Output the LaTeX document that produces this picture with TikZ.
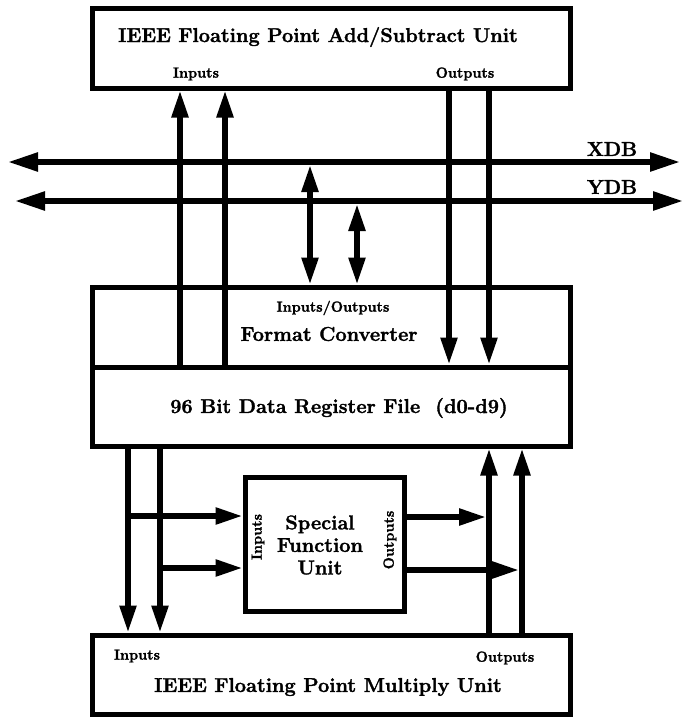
\documentclass[tikz,border=0pt]{standalone}
\usepackage{fontspec}
\setmainfont{Latin Modern Roman}[BoldFeatures={FakeBold=1.6}]
\usetikzlibrary{arrows.meta}
\begin{document}
\begin{tikzpicture}[x=1pt,y=-1pt,
  box/.style={draw, line width=5pt, minimum width=478pt, inner sep=0pt},
  flow/.style={line width=5.5pt, -{Triangle[length=27pt,width=16pt]}},
  bidir/.style={line width=5.5pt, {Triangle[length=27pt,width=16pt]}-{Triangle[length=27pt,width=16pt]}},
  bus/.style={line width=5.5pt, {Triangle[length=30pt,width=18pt]}-{Triangle[length=30pt,width=18pt]}},
  big/.style={font=\bfseries\fontsize{20}{22.5}\selectfont, inner sep=0pt, align=center},
  small/.style={font=\bfseries\fontsize{14.5}{16}\selectfont, inner sep=0pt}]
\useasboundingbox (0,0) rectangle (683,718);

% boxes
\node[box, minimum height=80pt] (add) at (331,48) {};
\node[box, minimum height=80pt] (fc) at (331,327) {};
\node[box, minimum height=79pt] (rf) at (331,406.5) {};
\node[box, minimum width=159pt, minimum height=134pt] (sfu) at (324.5,544) {};
\node[box, minimum height=79pt] (mul) at (331,674.5) {};

% texts
\node[big] (addT) at (318,37) {IEEE Floating Point Add/Subtract Unit};
\node[small] (addI) at (196,74) {Inputs};
\node[small] (addO) at (465,74) {Outputs};
\node[big] (xdbT) at (612,149) {XDB};
\node[big] (ydbT) at (612,187) {YDB};
\node[small] (fcIO) at (333,308) {Inputs/Outputs};
\node[big] (fcT) at (329,334) {Format Converter};
\node[big] (rfT) at (339,408) {96 Bit Data Register File\ \ (d0-d9)};
\node[big] (sfuT) at (320,545) {Special\\Function\\Unit};
\node[small, rotate=90] (sfuI) at (258,537) {Inputs};
\node[small, rotate=90] (sfuO) at (390,540) {Outputs};
\node[small] (mulI) at (137,656) {Inputs};
\node[small] (mulO) at (505,658) {Outputs};
\node[big] (mulT) at (328,687) {IEEE Floating Point Multiply Unit};

% column positions
\coordinate (cI1) at (180,0);
\coordinate (cI2) at (225,0);
\coordinate (cO1) at (449,0);
\coordinate (cO2) at (489,0);
\coordinate (cB1) at (310,0);
\coordinate (cB2) at (357,0);
\coordinate (cL1) at (128,0);
\coordinate (cL2) at (160,0);
\coordinate (cR1) at (489,0);
\coordinate (cR2) at (522,0);

% buses
\coordinate (xdbL) at (8,162);
\coordinate (xdbR) at (680,162);
\coordinate (ydbL) at (15,201);
\coordinate (ydbR) at (683,201);
\draw[bus] (xdbL) -- (xdbR);
\draw[bus] (ydbL) -- (ydbR);

% add/sub unit
\draw[flow] (fc.south -| cI1) -- (add.south -| cI1);
\draw[flow] (fc.south -| cI2) -- (add.south -| cI2);
\draw[flow] (add.south -| cO1) -- (rf.north -| cO1);
\draw[flow] (add.south -| cO2) -- (rf.north -| cO2);

% bus to format converter
\coordinate (bx) at (0,165);
\coordinate (by) at (0,204);
\draw[bidir] (bx -| cB1) -- (fc.north -| cB1);
\draw[bidir] (by -| cB2) -- (fc.north -| cB2);

% multiply unit
\draw[flow] (rf.south -| cL1) -- (mul.north -| cL1);
\draw[flow] (rf.south -| cL2) -- (mul.north -| cL2);
\draw[flow] (mul.north -| cR1) -- (rf.south -| cR1);
\draw[flow] (mul.north -| cR2) -- (rf.south -| cR2);

% special function unit
\coordinate (r1) at (0,516);
\coordinate (r2) at (0,568);
\coordinate (s1) at (0,517);
\coordinate (s2) at (0,570);
\draw[flow] (r1 -| cL1) -- (r1 -| sfu.west);
\draw[flow] (r2 -| cL2) -- (r2 -| sfu.west);
\coordinate (e1) at (486,0);
\coordinate (e2) at (519,0);
\draw[flow] (s1 -| sfu.east) -- (s1 -| e1);
\draw[flow] (s2 -| sfu.east) -- (s2 -| e2);
\end{tikzpicture}
\end{document}
